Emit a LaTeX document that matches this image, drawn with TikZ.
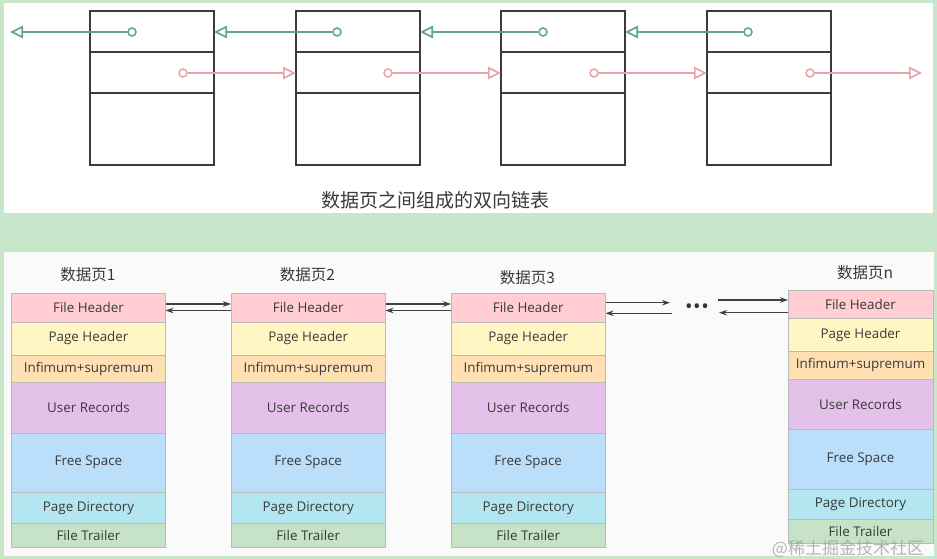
\documentclass[tikz,border=0pt]{standalone}
\usepackage{fontspec}
\setmainfont{Open Sans}
\newfontfamily\cjk{Noto Sans CJK SC}
\usetikzlibrary{arrows.meta}
\definecolor{bggreen}{HTML}{C8E6C9}
\definecolor{panelgray}{HTML}{FAFAFA}
\definecolor{linkgreen}{HTML}{62A38F}
\definecolor{linkpink}{HTML}{E9A3A8}
\definecolor{boxline}{HTML}{3C3C3C}
\definecolor{txt}{HTML}{3A3A3A}
\definecolor{cfh}{HTML}{FFCDD2}
\definecolor{cph}{HTML}{FFF6C4}
\definecolor{cin}{HTML}{FFE0B2}
\definecolor{cur}{HTML}{E3C1E8}
\definecolor{cfs}{HTML}{BBDEFB}
\definecolor{cpd}{HTML}{B3E6F0}
\definecolor{cft}{HTML}{C6E3C8}
\tikzset{
  pagebox/.style={draw=boxline,line width=1.3pt,minimum width=124pt,minimum height=154pt,inner sep=0,outer sep=0,anchor=north west},
  divider/.style={draw=boxline,line width=1.3pt},
  gdot/.style={circle,draw=linkgreen,line width=1.5pt,minimum size=8pt,inner sep=0,fill=white},
  pdot/.style={circle,draw=linkpink,line width=1.5pt,minimum size=8pt,inner sep=0,fill=white},
  glink/.style={draw=linkgreen,line width=1.7pt,-{Triangle[open,length=13pt,width=12.5pt]}},
  plink/.style={draw=linkpink,line width=1.7pt,-{Triangle[open,length=13pt,width=12.5pt]}},
  layer/.style={draw=gray!55,line width=0.8pt,inner sep=0,outer sep=0,text=txt,font=\fontsize{13.4}{16}\selectfont},
  slink/.style={draw=black!75,line width=1.1pt,-{Stealth[length=8pt,width=5.5pt]}},
  pagelabel/.style={text=txt,font=\cjk\fontsize{15.5}{18}\selectfont},
}
\newcommand\pgstack[4]{%
  \node[layer,fill=cfh,minimum width=#4pt,minimum height=28.5pt,anchor=north west] (#1fh) at (#2,#3) {File Header};
  \node[layer,fill=cph,minimum width=#4pt,minimum height=33pt,anchor=north] (#1ph) at (#1fh.south) {Page Header};
  \node[layer,fill=cin,minimum width=#4pt,minimum height=27.5pt,anchor=north] (#1in) at (#1ph.south) {Infimum+supremum};
  \node[layer,fill=cur,minimum width=#4pt,minimum height=50.5pt,anchor=north] (#1ur) at (#1in.south) {User Records};
  \node[layer,fill=cfs,minimum width=#4pt,minimum height=59.5pt,anchor=north] (#1fs) at (#1ur.south) {Free Space};
  \node[layer,fill=cpd,minimum width=#4pt,minimum height=30.5pt,anchor=north] (#1pd) at (#1fs.south) {Page Directory};
  \node[layer,fill=cft,minimum width=#4pt,minimum height=24pt,anchor=north] (#1ft) at (#1pd.south) {File Trailer};
}
\begin{document}
\begin{tikzpicture}[x=1pt,y=-1pt]
\useasboundingbox (0,0) rectangle (937,559);
\fill[bggreen] (0,0) rectangle (937,559);
\fill[white] (4,3) rectangle (933,213);
\fill[panelgray] (4,252) rectangle (934,556);

% ---- top: doubly linked list ----
\foreach \i/\x in {1/90,2/296,3/501,4/707}{
  \node[pagebox] (box\i) at (\x,11) {};
  \draw[divider] (box\i.west |- 0,52) -- (box\i.east |- 0,52);
  \draw[divider] (box\i.west |- 0,93) -- (box\i.east |- 0,93);
}
\coordinate (leftend) at (10,32);
\coordinate (rightend) at (922,73);
\node[gdot] (g1) at (132,32) {};
\node[gdot] (g2) at (337,32) {};
\node[gdot] (g3) at (543,32) {};
\node[gdot] (g4) at (748,32) {};
\node[pdot] (p1) at (183,73) {};
\node[pdot] (p2) at (388,73) {};
\node[pdot] (p3) at (594,73) {};
\node[pdot] (p4) at (810,73) {};
\draw[glink] (g1) -- (leftend);
\draw[glink] (g2) -- (box1.east |- g2);
\draw[glink] (g3) -- (box2.east |- g3);
\draw[glink] (g4) -- (box3.east |- g4);
\draw[plink] (p1) -- (box2.west |- p1);
\draw[plink] (p2) -- (box3.west |- p2);
\draw[plink] (p3) -- (box4.west |- p3);
\draw[plink] (p4) -- (rightend);
\node[text=txt,font=\cjk\fontsize{19}{22}\selectfont] (caption) at (435,200) {数据页之间组成的双向链表};

% ---- bottom: page structure ----
\pgstack{sa}{11.5}{293.5}{154}
\pgstack{sb}{231}{293.5}{154.5}
\pgstack{sc}{451}{293.5}{154.5}
\pgstack{sn}{788}{290}{145}
\node[pagelabel] (la) at (88,275) {数据页1};
\node[pagelabel] (lb) at (307.5,275) {数据页2};
\node[pagelabel] (lc) at (527.5,278) {数据页3};
\node[pagelabel] (ln) at (865,273) {数据页n};

\draw[slink] (safh.east |- 0,304) -- (sbfh.west |- 0,304);
\draw[slink] (sbfh.west |- 0,310.5) -- (safh.east |- 0,310.5);
\draw[slink] (sbfh.east |- 0,304) -- (scfh.west |- 0,304);
\draw[slink] (scfh.west |- 0,310.5) -- (sbfh.east |- 0,310.5);

\node[text=black!80,inner sep=0,font=\fontsize{20}{22}\selectfont] (dots) at (697,309) {\textbullet\hspace{0.5pt}\textbullet\hspace{0.5pt}\textbullet};
\coordinate (dotsL1) at (670,302.7);
\coordinate (dotsL2) at (672,313.3);
\coordinate (dotsR1) at (717.7,300);
\coordinate (dotsR2) at (719,312.7);
\draw[slink] (scfh.east |- dotsL1) -- (dotsL1);
\draw[slink] (dotsL2) -- (scfh.east |- dotsL2);
\draw[slink] (dotsR1) -- (snfh.west |- dotsR1);
\draw[slink] (snfh.west |- dotsR2) -- (dotsR2);

\node[text=gray!75,opacity=0.75,inner sep=0,font=\cjk\fontsize{17}{20}\selectfont] (wm) at (848,549) {@稀土掘金技术社区};
\end{tikzpicture}
\end{document}
